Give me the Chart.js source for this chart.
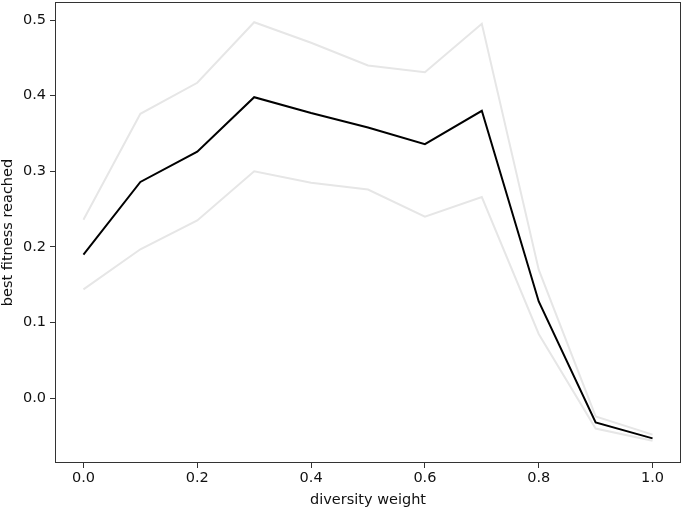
<!DOCTYPE html>
<html>
<head>
<meta charset="utf-8">
<script src="https://cdn.jsdelivr.net/npm/chart.js@4"></script>
<style>
  html, body { margin: 0; padding: 0; background: #fff; }
  #wrap { width: 685px; height: 509px; }
</style>
</head>
<body>
<div id="wrap"><canvas id="myChart" width="685" height="509"></canvas></div>
<script>
// diversity weight values on the x axis
const weights = [0.0, 0.1, 0.2, 0.3, 0.4, 0.5, 0.6, 0.7, 0.8, 0.9, 1.0]
// mean best fitness and the band around it
const meanFitness = [0.190, 0.286, 0.326, 0.398, 0.377, 0.358, 0.336, 0.380, 0.128, -0.032, -0.053]
const upperFitness = [0.236, 0.376, 0.417, 0.497, 0.470, 0.440, 0.431, 0.495, 0.170, -0.024, -0.048]
const lowerFitness = [0.144, 0.197, 0.235, 0.300, 0.285, 0.276, 0.240, 0.266, 0.085, -0.040, -0.056]
const xTicks = [0.0, 0.2, 0.4, 0.6, 0.8, 1.0]
const yTicks = [0.0, 0.1, 0.2, 0.3, 0.4, 0.5]

function toPoints(ys){
    return weights.map((w, i) => ({x: w, y: ys[i]}))
}

const frame = {
    id: 'frame',
    afterDraw(chart){
        const {ctx, chartArea} = chart
        ctx.save()
        ctx.strokeStyle = '#333'
        ctx.lineWidth = 1
        ctx.strokeRect(chartArea.left + 0.5, chartArea.top + 0.5,
            chartArea.right - chartArea.left - 1, chartArea.bottom - chartArea.top - 1)
        ctx.restore()
    }
}

const font = {family: 'DejaVu Sans', size: 14.5}

const ctx = document.getElementById('myChart')
new Chart(ctx, {
    type: 'line',
    data: {
        datasets: [
            {data: toPoints(upperFitness), borderColor: '#e6e6e6', borderWidth: 2, pointRadius: 0, tension: 0},
            {data: toPoints(lowerFitness), borderColor: '#e6e6e6', borderWidth: 2, pointRadius: 0, tension: 0},
            {data: toPoints(meanFitness), borderColor: '#000', borderWidth: 2, pointRadius: 0, tension: 0}
        ]
    },
    options: {
        responsive: false,
        animation: false,
        layout: {padding: {left: 0, right: 4, top: 2, bottom: 0}},
        plugins: {legend: {display: false}, tooltip: {enabled: false}},
        scales: {
            x: {
                type: 'linear',
                min: -0.05,
                max: 1.05,
                afterBuildTicks: axis => { axis.ticks = xTicks.map(v => ({value: v})) },
                afterFit: axis => { axis.height = 46; axis.paddingLeft = 0; axis.paddingRight = 0 },
                grid: {drawOnChartArea: false, drawTicks: true, tickLength: 5, color: '#333'},
                border: {display: false},
                ticks: {color: '#111', font: font, padding: 2, maxRotation: 0,
                    callback: v => v.toFixed(1)},
                title: {display: true, text: 'diversity weight', color: '#111', font: font, padding: {top: 0, bottom: 0}}
            },
            y: {
                min: -0.0855,
                max: 0.5238,
                afterBuildTicks: axis => { axis.ticks = yTicks.map(v => ({value: v})) },
                afterFit: axis => { axis.width = 55; axis.paddingTop = 0; axis.paddingBottom = 0 },
                grid: {drawOnChartArea: false, drawTicks: true, tickLength: 5, color: '#333'},
                border: {display: false},
                ticks: {color: '#111', font: font, padding: 4,
                    callback: v => v.toFixed(1)},
                title: {display: true, text: 'best fitness reached', color: '#111', font: font, padding: {top: 0, bottom: 2}}
            }
        }
    },
    plugins: [frame]
})
</script>
</body>
</html>
